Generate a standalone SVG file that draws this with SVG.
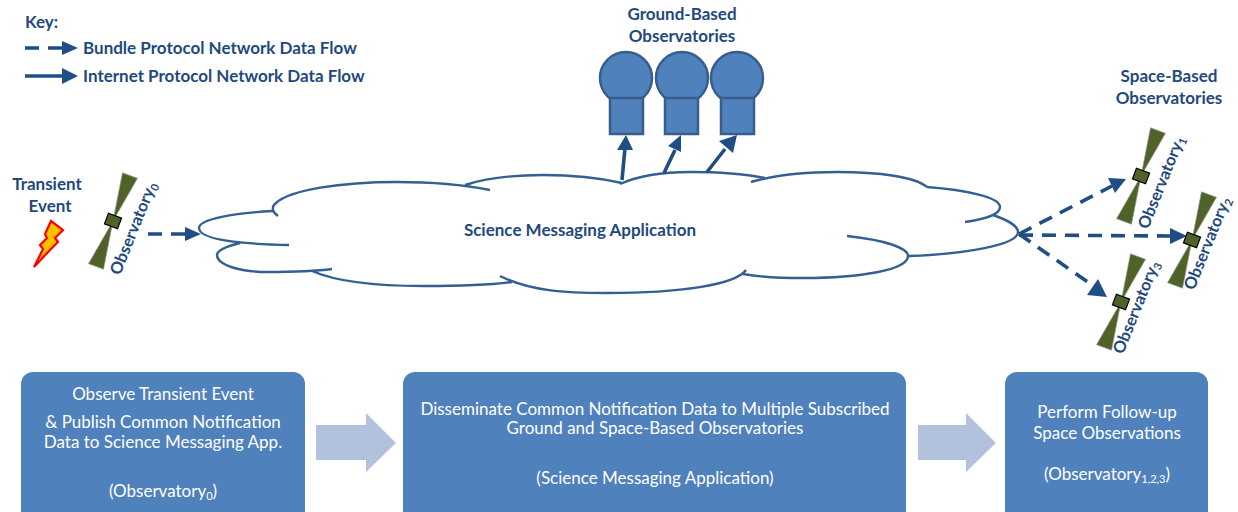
<svg xmlns="http://www.w3.org/2000/svg" width="1238" height="512" viewBox="0 0 1238 512">
<style>
.t{font-family:"Lato","Liberation Sans",sans-serif;font-weight:700;font-size:17px;fill:#1f497d}
.o{font-size:16.5px}
.m{text-anchor:middle}
.w{font-family:"Lato","Liberation Sans",sans-serif;font-size:17px;fill:#fff;text-anchor:middle}
.c{fill:none;stroke:#335f92;stroke-width:2.4;stroke-linecap:butt}
.a{fill:none;stroke:#1f4e84;stroke-width:3.6}
.d{stroke-dasharray:14 9}
.h{fill:#1f4e84}
.g{fill:#4f81bd;stroke:#385d8a;stroke-width:2.5}
.b{fill:#4f81bd}
.f{fill:#b3c2dc}
.s{fill:#4f6228;stroke:#999;stroke-width:.6}
.r{fill:#4f6228;stroke:#000;stroke-width:1.2}
</style>
<defs>
<g id="sat">
<path class="s" d="M0 0L-8 -48.5L8 -48.5ZM0 0L-8 48.5L8 48.5Z"/>
<rect class="r" x="-7" y="-5.7" width="14" height="11.4"/>
</g>
</defs>
<rect width="1238" height="512" fill="#fff"/>
<g id="key">
<text class="t" x="25" y="28">Key:</text>
<path class="a" d="M25 48H39M48 48H63M25 76H63"/>
<path class="h" d="M62 41L78 48L62 55ZM62 68L78 76L62 84Z"/>
<text class="t" x="83" y="54">Bundle Protocol Network Data Flow</text>
<text class="t" x="83" y="82">Internet Protocol Network Data Flow</text>
</g>
<g id="cloud">
<path class="c" d="M289 245C240 244 199 240 199 228C199 219 235 213 273 211"/>
<path class="c" d="M278 216C272 212 271 207 276 203C290 190 340 182 397 182C430 182 465 185 490 190"/>
<path class="c" d="M465 185C490 177 520 175 543 175C575 175 600 178 622 183"/>
<path class="c" d="M620 184C640 175 665 172 690 172C720 172 745 174 765 178"/>
<path class="c" d="M751 182C775 175 805 172 837 172C880 172 915 177 927 187"/>
<path class="c" d="M927 187C965 190 1000 197 1000 207C1000 215 985 219 965 222"/>
<path class="c" d="M993 215C1010 221 1018 226 1018 232C1018 245 965 254 909 256"/>
<path class="c" d="M847 236C885 240 908 248 908 256C908 270 860 278 803 278C780 278 760 277 743 274"/>
<path class="c" d="M746 270C735 285 680 293 607 293C565 293 530 291 500 276"/>
<path class="c" d="M512 282C490 285 455 286 423 286C375 286 335 281 312 271"/>
<path class="c" d="M332 269C310 272 290 272 267 272C240 272 217 265 217 255C217 250 228 246 240 243"/>
</g>
<g id="connectors">
<path class="a d" d="M148 234H186"/>
<path class="h" d="M185 227L201 234L185 241Z"/>
<path class="a" d="M622 180L625 148M664 173L675 150M707 172L725 149"/>
<path class="h" d="M617 150L626 135L633 150ZM668 146L681 135L681 152ZM719 141L737 135L733 153Z"/>
<path class="a d" d="M1019 234L1112 186"/>
<path class="h" d="M1108 178L1126 179L1115 193Z"/>
<path class="a d" d="M1019 235L1172 236"/>
<path class="h" d="M1170 228L1187 236L1170 244Z"/>
<path class="a d" d="M1019 234L1092 285"/>
<path class="h" d="M1087 295L1107 297L1098 279Z"/>
</g>
<g id="ground">
<text class="t m" x="682" y="20">Ground-Based</text>
<text class="t m" x="682" y="42">Observatories</text>
<circle class="g" cx="626" cy="78" r="26"/><circle class="g" cx="682" cy="78" r="26"/><circle class="g" cx="737" cy="78" r="26"/>
<rect class="g" x="610" y="98" width="33" height="36"/><rect class="g" x="665" y="98" width="33" height="36"/><rect class="g" x="721" y="98" width="33" height="36"/>
</g>
<g id="transient">
<text class="t m" x="47" y="190">Transient</text>
<text class="t m" x="50" y="212">Event</text>
<path d="M51 221L63 230L55 238L58 242L50 250L34 267L43 249L40 245L47 238L45 234Z" fill="#ffc000" stroke="#f00" stroke-width="2.2"/>
</g>
<g id="obs0">
<use href="#sat" transform="translate(113 221) rotate(20.5)"/>
<text class="t o" transform="translate(120 276) rotate(-68)">Observatory<tspan font-size="11" dy="3">0</tspan></text>
</g>
<g id="obs1">
<use href="#sat" transform="translate(1141 176) rotate(20.5)"/>
<text class="t o" transform="translate(1148 230) rotate(-68)">Observatory<tspan font-size="11" dy="3">1</tspan></text>
</g>
<g id="obs2">
<use href="#sat" transform="translate(1192 240) rotate(20.5)"/>
<text class="t o" transform="translate(1194 291) rotate(-68)">Observatory<tspan font-size="11" dy="3">2</tspan></text>
</g>
<g id="obs3">
<use href="#sat" transform="translate(1121 302) rotate(20.5)"/>
<text class="t o" transform="translate(1123 355) rotate(-68)">Observatory<tspan font-size="11" dy="3">3</tspan></text>
</g>
<g id="space-label">
<text class="t m" x="1169" y="82">Space-Based</text>
<text class="t m" x="1169" y="104">Observatories</text>
</g>
<text class="t m" x="580" y="236">Science Messaging Application</text>
<g id="step1">
<path class="b" d="M33 372H293a12 12 0 0 1 12 12V512H21V384a12 12 0 0 1 12-12Z"/>
<text class="w" x="163" y="400">Observe Transient Event</text>
<text class="w" x="163" y="428">&amp; Publish Common Notification</text>
<text class="w" x="163" y="448">Data to Science Messaging App.</text>
<text class="w" x="163" y="497">(Observatory<tspan font-size="11" dy="3">0</tspan><tspan dy="-3">)</tspan></text>
</g>
<path id="arrow1" class="f" d="M316 425H366V413L396 443L366 472V460H316Z"/>
<g id="step2">
<path class="b" d="M415 372H894a12 12 0 0 1 12 12V512H403V384a12 12 0 0 1 12-12Z"/>
<text class="w" x="655" y="415">Disseminate Common Notification Data to Multiple Subscribed</text>
<text class="w" x="655" y="434">Ground and Space-Based Observatories</text>
<text class="w" x="655" y="484">(Science Messaging Application)</text>
</g>
<path id="arrow2" class="f" d="M918 425H966V413L996 443L966 472V460H918Z"/>
<g id="step3">
<path class="b" d="M1017 372H1196a12 12 0 0 1 12 12V512H1005V384a12 12 0 0 1 12-12Z"/>
<text class="w" x="1107" y="418">Perform Follow-up</text>
<text class="w" x="1107" y="439">Space Observations</text>
<text class="w" x="1107" y="480">(Observatory<tspan font-size="11" dy="3">1,2,3</tspan><tspan dy="-3">)</tspan></text>
</g>
</svg>
